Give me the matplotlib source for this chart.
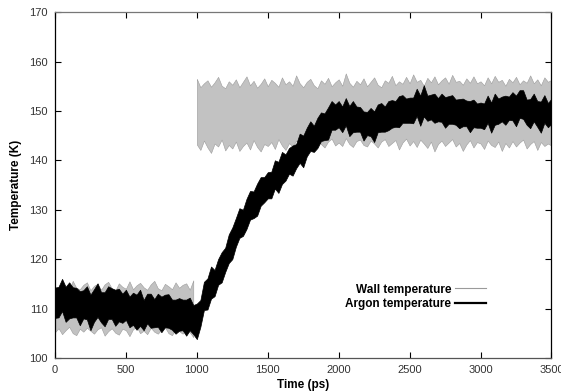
import numpy as np
import matplotlib.pyplot as plt
from matplotlib.lines import Line2D

plt.rcParams["font.family"] = ["Liberation Sans", "DejaVu Sans"]

# time axis, one reading every 25 ps
time_ps = np.arange(0, 3501, 25)

# wall temperature, upper / lower edge of the noise band
wall_hi = [114.5, 113.8, 115.2, 114.0, 113.5, 115.6, 114.2, 113.9, 114.8, 115.3,
           113.7, 114.6, 115.0, 113.8, 114.9, 115.4, 114.1, 113.6, 115.1, 114.4,
           114.0, 115.5, 113.9, 114.7, 115.2, 114.3, 113.8, 114.9, 115.6, 114.1,
           113.7, 115.0, 114.5, 113.9, 115.3, 114.2, 114.8, 115.1, 113.8, 115.7,
           156.5, 154.8, 155.6, 156.2, 154.9, 155.8, 156.9, 155.1, 154.6, 156.0,
           155.3, 156.4, 154.8, 155.9, 157.0, 155.2, 156.1, 154.7, 155.5, 156.6,
           155.0, 156.3, 155.7, 154.9, 156.8, 155.4, 156.0, 155.1, 157.2, 155.6,
           154.8, 155.9, 156.5, 155.2, 154.6, 156.2, 155.5, 156.7, 155.0, 155.8,
           156.4, 155.1, 157.6, 155.7, 154.9, 156.1, 155.4, 156.6, 155.0, 155.9,
           156.8, 155.3, 154.8, 156.2, 155.7, 157.1, 155.2, 156.0, 155.5, 156.9,
           155.6, 157.4, 155.9, 156.3, 155.1, 156.7, 155.8, 157.0, 155.4, 156.2,
           156.8, 155.5, 157.3, 155.9, 156.1, 155.3, 156.6, 155.7, 157.0, 155.6,
           156.0, 155.2, 156.8, 155.6, 157.1, 155.9, 156.3, 155.1, 156.5, 155.8,
           156.9, 155.4, 156.2, 155.7, 157.2, 155.6, 156.4, 155.2, 156.8, 155.9,
           156.3]
wall_lo = [105.2, 106.0, 104.8, 105.6, 106.3, 105.0, 104.6, 105.9, 105.3, 106.1,
           105.5, 104.9, 105.8, 106.2, 104.5, 105.4, 106.0, 105.1, 104.7, 105.9,
           105.6, 104.4, 105.8, 106.3, 105.0, 105.5, 104.8, 106.1, 105.3, 104.9,
           105.7, 106.2, 105.0, 104.6, 105.9, 105.4, 104.9, 106.0, 105.2, 104.2,
           143.2, 142.1, 144.0, 142.6, 141.5, 143.4, 142.8, 144.2, 142.0, 143.1,
           142.4, 143.8, 141.9, 142.9, 143.6, 142.2, 144.1, 142.7, 141.8, 143.3,
           142.9, 143.7, 142.3, 144.3, 143.0, 142.1, 143.5, 142.8, 144.0, 143.2,
           142.5, 143.9, 143.1, 142.4, 144.2, 143.3, 142.6, 143.8, 144.4, 143.0,
           143.6, 142.9, 144.5, 143.3, 142.7, 143.9, 144.2, 143.1, 142.8, 144.0,
           143.4, 142.6, 143.8, 144.3, 142.9, 143.5, 144.1, 142.2, 143.6, 144.4,
           143.0, 143.9, 142.7, 144.2, 143.4, 142.5, 143.8, 141.8, 143.3, 144.0,
           142.9, 143.6, 144.3, 142.8, 143.5, 141.9, 143.2, 144.1, 142.6, 143.7,
           143.4, 142.3, 144.0, 143.1, 142.7, 143.8, 141.9, 143.5, 142.6, 143.9,
           142.8, 143.6, 144.2, 142.4, 143.3, 143.9, 142.1, 143.7, 142.9, 143.4,
           143.0]

# argon temperature, upper / lower edge of the noise band
argon_hi = [114.2, 114.4, 116.0, 114.4, 115.3, 114.3, 114.2, 113.5, 113.7, 114.5,
            112.8, 113.9, 115.1, 113.3, 113.3, 114.5, 114.1, 113.8, 114.0, 113.0,
            113.8, 112.4, 113.2, 112.8, 113.8, 111.7, 113.0, 113.0, 111.9, 113.0,
            112.4, 112.8, 112.9, 111.8, 111.8, 112.1, 111.8, 111.8, 112.2, 110.7,
            111.0, 111.7, 115.4, 116.1, 118.5, 117.8, 120.0, 121.4, 122.3, 125.0,
            126.4, 128.3, 130.3, 130.0, 132.2, 133.8, 133.7, 135.3, 136.6, 136.6,
            137.6, 137.7, 140.0, 139.7, 141.7, 141.2, 142.5, 143.0, 143.3, 145.4,
            145.0, 146.6, 147.9, 147.0, 148.6, 149.7, 149.5, 150.7, 152.0, 151.3,
            152.0, 150.9, 152.6, 151.0, 152.0, 150.9, 150.8, 149.9, 149.8, 150.6,
            149.9, 151.3, 151.6, 150.9, 152.0, 152.2, 152.0, 153.0, 153.2, 152.5,
            152.7, 152.7, 154.5, 153.1, 155.2, 153.1, 153.3, 153.5, 152.6, 153.5,
            152.8, 153.0, 153.2, 152.3, 152.4, 152.5, 152.1, 152.0, 152.3, 151.5,
            151.7, 151.5, 153.1, 151.7, 153.5, 152.5, 152.9, 153.1, 152.9, 153.8,
            153.1, 154.2, 154.2, 152.3, 152.4, 153.5, 152.0, 151.9, 153.2, 151.6,
            152.5]
argon_lo = [108.1, 108.2, 109.5, 107.3, 108.0, 108.2, 108.2, 106.6, 108.0, 107.8,
            105.6, 107.3, 108.3, 107.2, 106.4, 107.9, 107.9, 106.5, 107.4, 107.1,
            107.7, 106.2, 106.7, 105.7, 106.5, 105.6, 107.0, 106.1, 106.2, 106.3,
            105.2, 106.2, 106.1, 105.7, 104.9, 105.5, 105.6, 104.5, 105.6, 104.8,
            103.8, 106.3, 109.7, 109.8, 112.0, 112.5, 114.8, 115.3, 117.4, 119.2,
            120.0, 122.5, 124.3, 124.7, 126.1, 128.0, 128.3, 128.8, 130.8, 131.5,
            132.3, 132.3, 134.3, 133.4, 135.2, 135.9, 137.3, 136.9, 138.4, 139.5,
            138.6, 140.8, 141.9, 141.7, 142.5, 143.9, 144.1, 144.2, 146.2, 146.2,
            146.7, 145.7, 147.1, 144.9, 145.7, 145.8, 145.8, 144.0, 145.1, 144.9,
            143.7, 145.7, 145.8, 145.8, 146.1, 146.6, 146.8, 146.7, 147.6, 147.6,
            147.6, 147.5, 149.0, 147.0, 148.9, 148.0, 148.3, 147.6, 147.9, 147.8,
            146.6, 147.4, 147.4, 147.2, 146.5, 146.9, 146.9, 145.7, 146.7, 146.6,
            146.6, 146.3, 147.6, 145.6, 147.2, 147.4, 147.9, 147.2, 148.2, 148.1,
            146.9, 148.6, 148.4, 147.2, 146.5, 147.9, 146.8, 145.6, 147.6, 146.7,
            147.4]

wall_hi = np.array(wall_hi)
wall_lo = np.array(wall_lo)

fig, ax = plt.subplots(figsize=(5.61, 3.92), dpi=100)
fig.subplots_adjust(left=0.098, right=0.983, top=0.969, bottom=0.087)

# wall temperature (grey), two phases: before and after the wall is heated
before = time_ps < 1000
after = time_ps >= 1000
for part in (before, after):
    ax.fill_between(time_ps[part], wall_lo[part], wall_hi[part],
                    color="#c2c2c2", edgecolor="#9c9c9c", lw=0.4)

# argon temperature (black)
ax.fill_between(time_ps, argon_lo, argon_hi, color="black",
                edgecolor="black", lw=0.5)

ax.set_xlim(0, 3500)
ax.set_ylim(100, 170)
ax.set_xticks(np.arange(0, 3501, 500))
ax.set_yticks(np.arange(100, 171, 10))
ax.tick_params(direction="in", top=True, right=True, length=4, width=0.8,
               labelsize=8, labelcolor="#333333", pad=5)
for s in ax.spines.values():
    s.set_linewidth(0.9)
ax.spines["top"].set_color("#777777")
ax.spines["bottom"].set_color("#555555")

ax.set_xlabel("Time (ps)", fontsize=8.5, fontweight="bold", labelpad=3)
ax.set_ylabel("Temperature (K)", fontsize=8.5, fontweight="bold", labelpad=5)

handles = [Line2D([], [], color="#9a9a9a", lw=0.8),
           Line2D([], [], color="black", lw=1.6)]
ax.legend(handles, ["Wall temperature", "Argon temperature"],
          loc="upper left", bbox_to_anchor=(0.585, 0.215),
          frameon=False, markerfirst=False, handlelength=2.6,
          handletextpad=0.3, labelspacing=0.2, borderpad=0, borderaxespad=0,
          prop={"weight": "bold", "size": 8.5})

plt.savefig("out.png", dpi=100)
